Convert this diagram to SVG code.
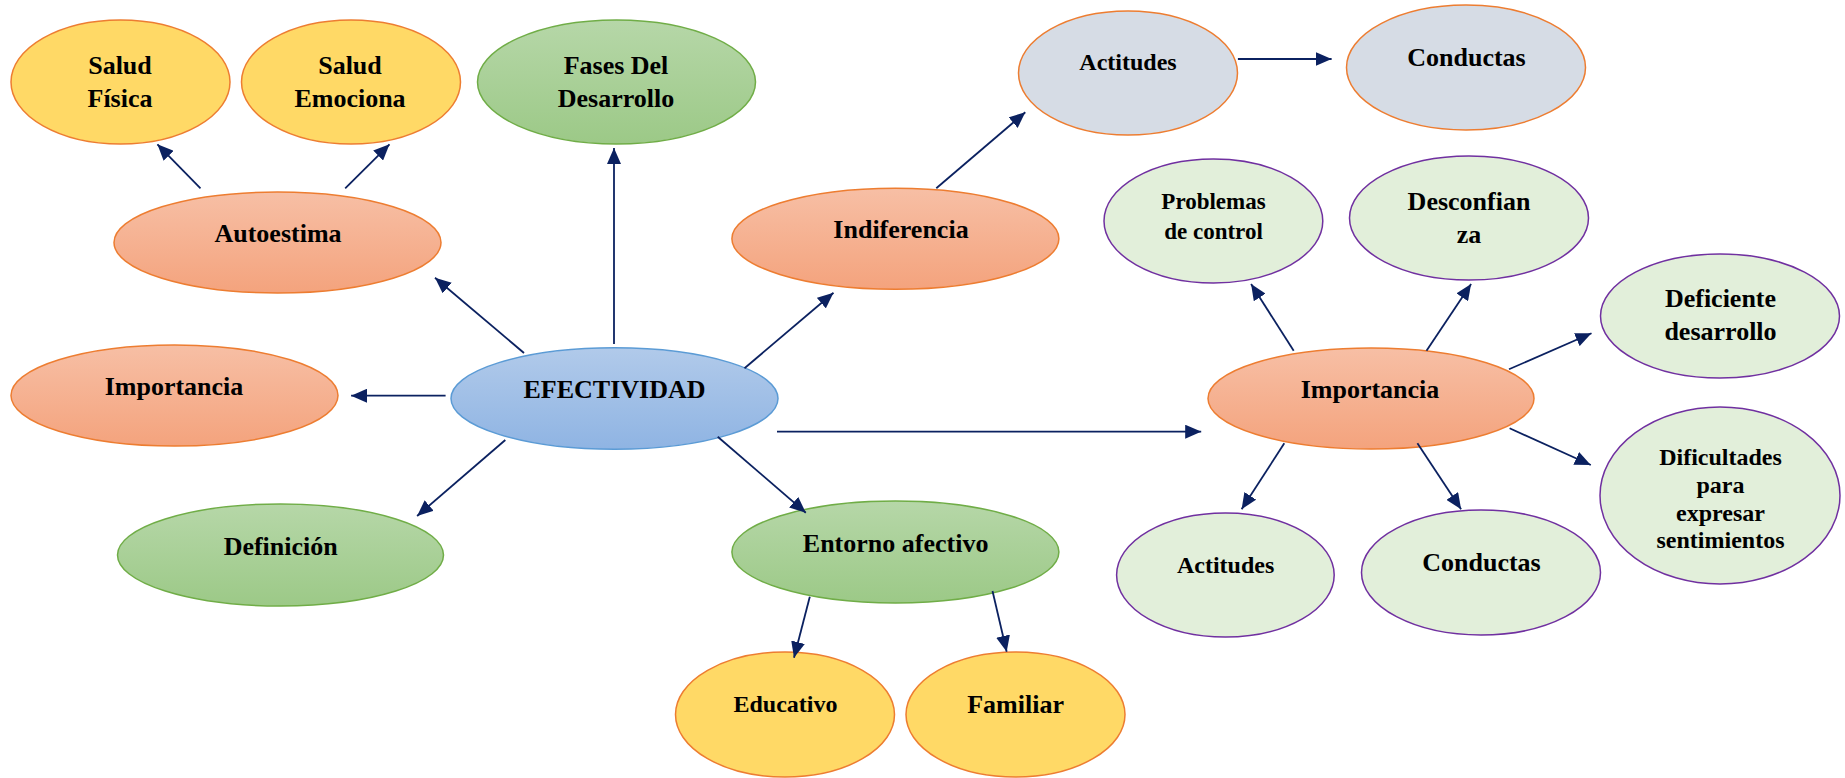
<svg xmlns="http://www.w3.org/2000/svg" width="1845" height="778" viewBox="0 0 1845 778">
<defs>
<linearGradient id="gOr" x1="0" y1="0" x2="0" y2="1"><stop offset="0" stop-color="#F7BFA5"/><stop offset="1" stop-color="#F4A37D"/></linearGradient>
<linearGradient id="gGr" x1="0" y1="0" x2="0" y2="1"><stop offset="0" stop-color="#B6D7A8"/><stop offset="1" stop-color="#9CC987"/></linearGradient>
<linearGradient id="gBl" x1="0" y1="0" x2="0" y2="1"><stop offset="0" stop-color="#B1CAEA"/><stop offset="1" stop-color="#8FB4E3"/></linearGradient>
<marker id="ah" viewBox="0 0 16 14" refX="16" refY="7" markerWidth="16" markerHeight="14" markerUnits="userSpaceOnUse" orient="auto"><path d="M0,0 L16,7 L0,14 Z" fill="#0B2160"/></marker>
<style>
.yel{fill:#FFD966;stroke:#ED7D31;stroke-width:1.5}
.or{fill:url(#gOr);stroke:#ED7D31;stroke-width:1.5}
.gr{fill:url(#gGr);stroke:#70AD47;stroke-width:1.5}
.bl{fill:url(#gBl);stroke:#5B9BD5;stroke-width:1.5}
.gy{fill:#D6DCE5;stroke:#ED7D31;stroke-width:1.5}
.lg{fill:#E2EFDA;stroke:#7030A0;stroke-width:1.5}
text{font-family:"Liberation Serif","Times New Roman",serif;font-weight:bold;fill:#000;text-anchor:middle}
.f26{font-size:26px}
.f24{font-size:24px}
.f23{font-size:23px}
#connectors line{stroke:#0B2160;stroke-width:1.8;marker-end:url(#ah)}
</style>
</defs>
<g id="salud-fisica"><ellipse class="yel" cx="120.5" cy="82" rx="109.5" ry="62"/><text class="f26" x="120" y="74">Salud</text><text class="f26" x="120" y="107">Física</text></g>
<g id="salud-emociona"><ellipse class="yel" cx="351" cy="82" rx="109.5" ry="62"/><text class="f26" x="350" y="74">Salud</text><text class="f26" x="350" y="107">Emociona</text></g>
<g id="fases"><ellipse class="gr" cx="616.5" cy="82" rx="139" ry="62"/><text class="f26" x="616" y="74">Fases Del</text><text class="f26" x="616" y="107">Desarrollo</text></g>
<g id="autoestima"><ellipse class="or" cx="277.5" cy="242.5" rx="163.5" ry="50.5"/><text class="f26" x="278" y="242">Autoestima</text></g>
<g id="actitudes-top"><ellipse class="gy" cx="1128" cy="73" rx="109.5" ry="62"/><text class="f24" x="1128" y="70">Actitudes</text></g>
<g id="conductas-top"><ellipse class="gy" cx="1466" cy="67.5" rx="119.5" ry="62.5"/><text class="f26" x="1466.5" y="66">Conductas</text></g>
<g id="indiferencia"><ellipse class="or" cx="895.4" cy="238.7" rx="163.5" ry="50.5"/><text class="f26" x="901" y="238">Indiferencia</text></g>
<g id="problemas"><ellipse class="lg" cx="1213.4" cy="221" rx="109.4" ry="62"/><text class="f23" x="1213.5" y="209">Problemas</text><text class="f23" x="1213.5" y="239">de control</text></g>
<g id="desconfianza"><ellipse class="lg" cx="1469" cy="218" rx="119.5" ry="62"/><text class="f26" x="1469" y="210">Desconfian</text><text class="f26" x="1469" y="243">za</text></g>
<g id="deficiente"><ellipse class="lg" cx="1720" cy="316" rx="119.5" ry="62"/><text class="f26" x="1720.5" y="307">Deficiente</text><text class="f26" x="1720.5" y="340">desarrollo</text></g>
<g id="importancia-right"><ellipse class="or" cx="1371" cy="398.5" rx="163" ry="50.5"/><text class="f26" x="1370" y="398">Importancia</text></g>
<g id="importancia-left"><ellipse class="or" cx="174.5" cy="395.5" rx="163.5" ry="50.5"/><text class="f26" x="174" y="395">Importancia</text></g>
<g id="efectividad"><ellipse class="bl" cx="614.5" cy="398.5" rx="163.5" ry="50.7"/><text class="f26" x="614.5" y="398">EFECTIVIDAD</text></g>
<g id="definicion"><ellipse class="gr" cx="280.5" cy="555" rx="163" ry="51"/><text class="f26" x="280.7" y="555">Definición</text></g>
<g id="entorno"><ellipse class="gr" cx="895.4" cy="552" rx="163.5" ry="51"/><text class="f26" x="895.6" y="552">Entorno afectivo</text></g>
<g id="educativo"><ellipse class="yel" cx="785" cy="714.5" rx="109.5" ry="62.5"/><text class="f24" x="785.5" y="712">Educativo</text></g>
<g id="familiar"><ellipse class="yel" cx="1015.5" cy="714.5" rx="109.5" ry="62.5"/><text class="f26" x="1015.6" y="713">Familiar</text></g>
<g id="actitudes-bottom"><ellipse class="lg" cx="1225.4" cy="575" rx="108.8" ry="62"/><text class="f24" x="1225.6" y="573">Actitudes</text></g>
<g id="conductas-bottom"><ellipse class="lg" cx="1481" cy="572.5" rx="119.5" ry="62.5"/><text class="f26" x="1481.5" y="571">Conductas</text></g>
<g id="dificultades"><ellipse class="lg" cx="1720" cy="495.5" rx="120" ry="88.5"/><text class="f24" x="1720.5" y="465">Dificultades</text><text class="f24" x="1720.5" y="493">para</text><text class="f24" x="1720.5" y="521">expresar</text><text class="f24" x="1720.5" y="548">sentimientos</text></g>
<g id="connectors">
<line x1="200.5" y1="188.3" x2="157.4" y2="144.3"/>
<line x1="345.2" y1="188.3" x2="389.5" y2="144.3"/>
<line x1="524" y1="353" x2="435" y2="277.7"/>
<line x1="614" y1="344" x2="614" y2="148"/>
<line x1="936.3" y1="188.3" x2="1025.3" y2="112.3"/>
<line x1="744.5" y1="368.3" x2="833.5" y2="292.7"/>
<line x1="1237.9" y1="59" x2="1331.6" y2="59"/>
<line x1="1293.7" y1="350.7" x2="1251.1" y2="284"/>
<line x1="1426.5" y1="350.7" x2="1471.1" y2="284"/>
<line x1="1509" y1="369.3" x2="1591.5" y2="333.3"/>
<line x1="445.6" y1="395.7" x2="351.1" y2="395.7"/>
<line x1="505.3" y1="440" x2="417.1" y2="516"/>
<line x1="717.7" y1="436.7" x2="805.8" y2="512.7"/>
<line x1="777" y1="431.7" x2="1201.2" y2="431.7"/>
<line x1="809.8" y1="596.7" x2="794" y2="657.7"/>
<line x1="992.5" y1="591" x2="1006.7" y2="651.7"/>
<line x1="1284.3" y1="443.3" x2="1241.6" y2="509.3"/>
<line x1="1417.4" y1="443.3" x2="1461.1" y2="509.3"/>
<line x1="1509.6" y1="428.3" x2="1590.8" y2="465"/>
</g>
</svg>
